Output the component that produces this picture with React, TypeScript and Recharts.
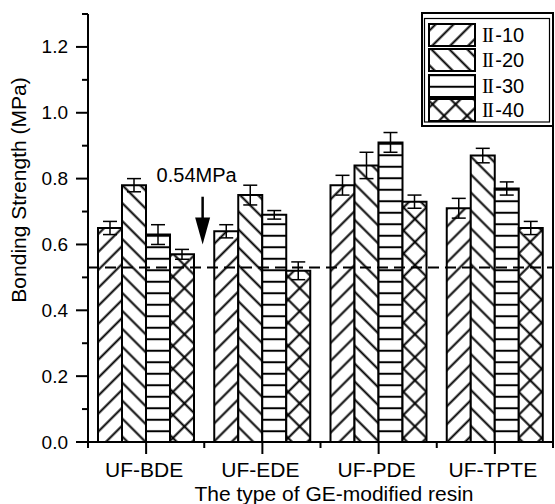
import React from 'react';
import { BarChart, Bar, XAxis, YAxis, ErrorBar, ReferenceLine, Legend, Label } from 'recharts';

// values (MPa)
const categories = ['UF-BDE', 'UF-EDE', 'UF-PDE', 'UF-TPTE'];
const ii10 = [0.65, 0.64, 0.78, 0.71];
const ii20 = [0.78, 0.75, 0.84, 0.87];
const ii30 = [0.63, 0.69, 0.91, 0.77];
const ii40 = [0.57, 0.52, 0.73, 0.65];
const err10 = [0.02, 0.02, 0.03, 0.03];
const err20 = [0.02, 0.03, 0.04, 0.022];
const err30 = [0.03, 0.013, 0.03, 0.02];
const err40 = [0.015, 0.027, 0.02, 0.02];
const seriesNames = ['II-10', 'II-20', 'II-30', 'II-40'];
const yTicks = [0, 0.1, 0.2, 0.3, 0.4, 0.5, 0.6, 0.7, 0.8, 0.9, 1.0, 1.1, 1.2, 1.3];

// dashed reference and arrow annotation (arrow sits on the boundary right of the first group)
const refValue = 0.53;
const refLabel = '0.54MPa';
const arrowCategory = 'UF-BDE';
const arrowFrom = 0.745;
const arrowTo = 0.6;

const keys = ['s10', 's20', 's30', 's40'];
const errKeys = ['e10', 'e20', 'e30', 'e40'];
const patIds = ['pat10', 'pat20', 'pat30', 'pat40'];

const data = categories.map((name, i) => ({
  name,
  s10: ii10[i], e10: err10[i],
  s20: ii20[i], e20: err20[i],
  s30: ii30[i], e30: err30[i],
  s40: ii40[i], e40: err40[i],
}));

const FONT = '"Liberation Sans", Arial, sans-serif';

const YTick = (props: any) => {
  const { x, y, payload } = props;
  const v = payload.value;
  const major = Math.round(v * 10) % 2 === 0;
  return (
    <g>
      <line x1={x - (major ? 12 : 6)} x2={x} y1={y} y2={y} stroke="#000" strokeWidth={2} />
      {major && (
        <text x={x - 20} y={y} dy={6.5} textAnchor="end" fontSize={19} fontFamily={FONT} fill="#000">
          {v.toFixed(1)}
        </text>
      )}
    </g>
  );
};

const XTick = (props: any) => {
  const { x, y, payload, index } = props;
  const off = payload.offset ?? 58;
  return (
    <g>
      <line x1={x} x2={x} y1={y} y2={y + 12} stroke="#000" strokeWidth={2} />
      <line x1={x + off} x2={x + off} y1={y} y2={y + 6} stroke="#000" strokeWidth={2} />
      {index === 0 && <line x1={x - off} x2={x - off} y1={y} y2={y + 6} stroke="#000" strokeWidth={2} />}
      <text x={x - 2} y={y + 35} textAnchor="middle" fontSize={21} fontFamily={FONT} fill="#000">
        {payload.value}
      </text>
    </g>
  );
};

const ArrowShape = (p: any) => {
  const { x1, y1, y2 } = p;
  const ax = x1 + 56.5; // category boundary
  return (
    <g>
      <line x1={ax} y1={y1} x2={ax} y2={y2 - 24} stroke="#000" strokeWidth={2.5} />
      <polygon points={`${ax - 7.5},${y2 - 27} ${ax + 7.5},${y2 - 27} ${ax},${y2}`} fill="#000" />
      <text x={ax - 6} y={y1 - 15} textAnchor="middle" fontSize={20} fontFamily={FONT} fill="#000">
        {refLabel}
      </text>
    </g>
  );
};

const LegendBox = () => (
  <svg width={134} height={116} style={{ display: 'block' }}>
    <rect x={1} y={1} width={131} height={113} fill="#fff" stroke="#000" strokeWidth={2} />
    <rect x={3.5} y={6.5} width={125} height={103.5} fill="none" stroke="#000" strokeWidth={1.2} />
    {seriesNames.map((n, i) => {
      const top = [12, 37, 63, 87][i];
      return (
        <g key={n}>
          <rect x={8} y={top} width={46} height={22} fill={`url(#${patIds[i]})`} stroke="#000" strokeWidth={2} />
          <text x={61} y={top + 18} fontSize={20} fill="#000">
            <tspan fontFamily='"Liberation Serif", "Times New Roman", serif' letterSpacing={-1.5}>{n.slice(0, 2)}</tspan>
            <tspan fontFamily={FONT} dx={3}>{n.slice(2)}</tspan>
          </text>
        </g>
      );
    })}
  </svg>
);

export default function App() {
  return (
    <div style={{ position: 'absolute', left: 0, top: 0, background: '#fff' }}>
      <BarChart
        width={555}
        height={504}
        data={data}
        margin={{ top: 14, right: 0, bottom: 0, left: 0 }}
        barCategoryGap={10}
        barGap={0}
      >
        <defs>
          <pattern id="pat10" patternUnits="userSpaceOnUse" width={12.7} height={12.7} patternTransform="rotate(45)">
            <rect width={12.7} height={12.7} fill="#fff" />
            <line x1={6.35} y1={0} x2={6.35} y2={12.7} stroke="#000" strokeWidth={2} />
          </pattern>
          <pattern id="pat20" patternUnits="userSpaceOnUse" width={12.7} height={12.7} patternTransform="rotate(-45)">
            <rect width={12.7} height={12.7} fill="#fff" />
            <line x1={6.35} y1={0} x2={6.35} y2={12.7} stroke="#000" strokeWidth={2} />
          </pattern>
          <pattern id="pat30" patternUnits="userSpaceOnUse" width={10} height={11.5}>
            <rect width={10} height={11.5} fill="#fff" />
            <line x1={0} y1={5.75} x2={10} y2={5.75} stroke="#000" strokeWidth={2} />
          </pattern>
          <pattern id="pat40" patternUnits="userSpaceOnUse" width={16.3} height={16.3} patternTransform="rotate(45)">
            <rect width={16.3} height={16.3} fill="#fff" />
            <line x1={8.15} y1={0} x2={8.15} y2={16.3} stroke="#000" strokeWidth={2} />
            <line x1={0} y1={8.15} x2={16.3} y2={8.15} stroke="#000" strokeWidth={2} />
          </pattern>
        </defs>

        <XAxis
          dataKey="name"
          height={62}
          tickSize={0}
          tickMargin={0}
          tickLine={false}
          tick={<XTick />}
          interval={0}
          axisLine={{ stroke: '#000', strokeWidth: 2 }}
        >
          <Label
            content={() => (
              <text x={334} y={501} textAnchor="middle" fontSize={21} fontFamily={FONT} fill="#000">
                The type of GE-modified resin
              </text>
            )}
          />
        </XAxis>
        <XAxis
          xAxisId="top"
          dataKey="name"
          orientation="top"
          height={0}
          tick={false}
          tickLine={false}
          axisLine={{ stroke: '#000', strokeWidth: 2 }}
        />
        <YAxis
          width={88}
          domain={[0, 1.3]}
          ticks={yTicks}
          interval={0}
          tickSize={0}
          tickMargin={0}
          tickLine={false}
          tick={<YTick />}
          axisLine={{ stroke: '#000', strokeWidth: 2 }}
        >
          <Label
            content={() => (
              <text
                transform="translate(26,190) rotate(-90)"
                textAnchor="middle"
                fontSize={21}
                fontFamily={FONT}
                fill="#000"
              >
                Bonding Strength (MPa)
              </text>
            )}
          />
        </YAxis>
        <YAxis
          yAxisId="right"
          orientation="right"
          width={2}
          domain={[0, 1.3]}
          tick={false}
          tickLine={false}
          axisLine={{ stroke: '#000', strokeWidth: 2 }}
        />

        {keys.map((k, i) => (
          <Bar
            key={k}
            dataKey={k}
            name={seriesNames[i]}
            fill={`url(#${patIds[i]})`}
            stroke="#000"
            strokeWidth={2}
            isAnimationActive={false}
          >
            <ErrorBar dataKey={errKeys[i]} width={7} stroke="#000" strokeWidth={1.5} direction="y" isAnimationActive={false} />
          </Bar>
        ))}

        <ReferenceLine y={refValue} stroke="#000" strokeWidth={2} strokeDasharray="11 6" />
        <ReferenceLine
          segment={[{ x: arrowCategory, y: arrowFrom }, { x: arrowCategory, y: arrowTo }]}
          shape={<ArrowShape />}
          ifOverflow="visible"
        />

        <Legend
          layout="horizontal"
          verticalAlign="middle"
          align="center"
          content={() => <LegendBox />}
          wrapperStyle={{ position: 'absolute', left: 421, top: 12, width: 134, height: 116 }}
        />
      </BarChart>
    </div>
  );
}
